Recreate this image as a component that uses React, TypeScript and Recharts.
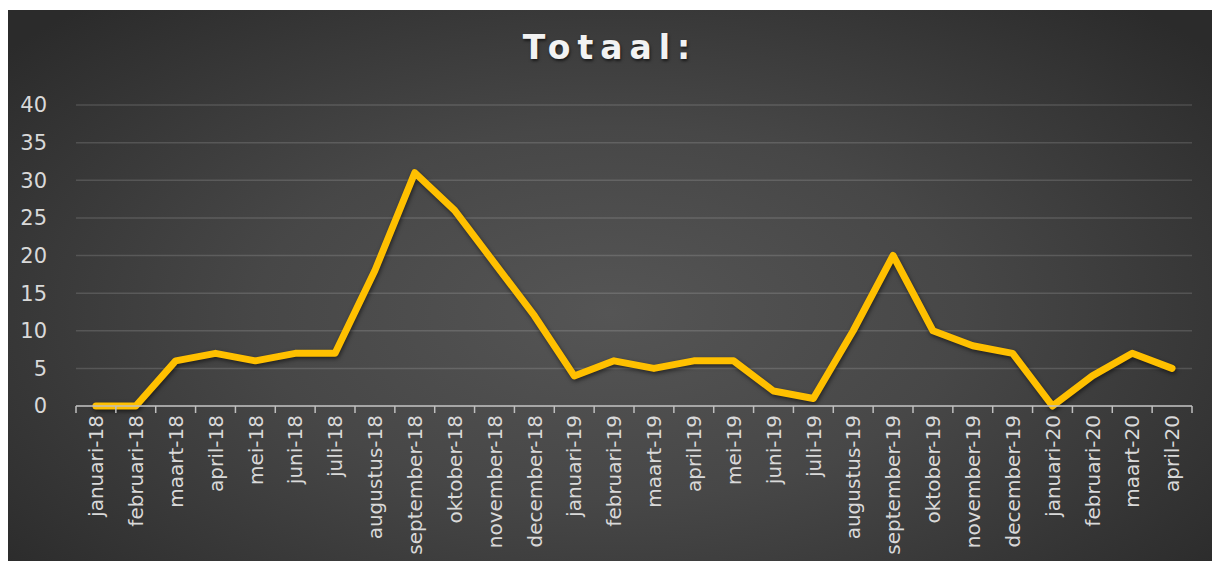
import React from 'react';
import { LineChart, Line, XAxis, YAxis, CartesianGrid } from 'recharts';

const months = [
  'januari-18', 'februari-18', 'maart-18', 'april-18', 'mei-18', 'juni-18', 'juli-18',
  'augustus-18', 'september-18', 'oktober-18', 'november-18', 'december-18',
  'januari-19', 'februari-19', 'maart-19', 'april-19', 'mei-19', 'juni-19', 'juli-19',
  'augustus-19', 'september-19', 'oktober-19', 'november-19', 'december-19',
  'januari-20', 'februari-20', 'maart-20', 'april-20',
];

const totals = [
  0, 0, 6, 7, 6, 7, 7,
  18, 31, 26, 19, 12,
  4, 6, 5, 6, 6, 2, 1,
  10, 20, 10, 8, 7,
  0, 4, 7, 5,
];

const yTicks = [0, 5, 10, 15, 20, 25, 30, 35, 40];

const data = months.map((month, i) => ({ month, total: totals[i] }));

const W = 1204;
const H = 551;
const MARGIN = { top: 95, right: 20, bottom: 0, left: 0 };
const Y_WIDTH = 68;
const X_HEIGHT = 155;
const PLOT_W = W - MARGIN.left - MARGIN.right - Y_WIDTH;
const HALF_BAND = PLOT_W / months.length / 2;

const FONT = '"DejaVu Sans", sans-serif';
const LABEL = '#d9d9d9';
const AXIS = '#bfbfbf';

const MonthTick = (props: any) => {
  const { x, y, payload, index } = props;
  const last = index === months.length - 1;
  return (
    <g>
      <line x1={x - HALF_BAND} y1={y} x2={x - HALF_BAND} y2={y + 7} stroke={AXIS} strokeWidth={1.5} />
      {last && (
        <line x1={x + HALF_BAND} y1={y} x2={x + HALF_BAND} y2={y + 7} stroke={AXIS} strokeWidth={1.5} />
      )}
      <text
        x={0}
        y={0}
        dy="0.36em"
        transform={`translate(${x},${y + 9}) rotate(-90)`}
        textAnchor="end"
        fill={LABEL}
        fontSize={20}
        fontFamily={FONT}
      >
        {payload.value}
      </text>
    </g>
  );
};

export default function App() {
  return (
    <div style={{ position: 'fixed', inset: 0, background: '#fff', overflow: 'hidden' }}>
      <div
        style={{
          position: 'absolute',
          left: 8,
          top: 10,
          width: W,
          height: H,
          background:
            'radial-gradient(ellipse 65% 75% at 50% 55%, #555555 0%, #474747 45%, #2b2b2b 100%)',
        }}
      >
        <div
          style={{
            position: 'absolute',
            left: 0,
            top: 21,
            width: W,
            textAlign: 'center',
            fontFamily: FONT,
            fontWeight: 'bold',
            fontSize: 33,
            lineHeight: '33px',
            letterSpacing: 7,
            color: '#f2f2f2',
            textShadow: '1px 2px 3px rgba(0,0,0,0.6)',
          }}
        >
          Totaal:
        </div>
        <div style={{ position: 'absolute', left: 0, top: 0 }}>
          <LineChart width={W} height={H} data={data} margin={MARGIN}>
            <CartesianGrid vertical={false} stroke="rgba(255,255,255,0.14)" strokeWidth={1.5} />
            <XAxis
              dataKey="month"
              interval={0}
              height={X_HEIGHT}
              padding={{ left: HALF_BAND, right: HALF_BAND }}
              axisLine={{ stroke: AXIS, strokeWidth: 1.5 }}
              tickLine={false}
              tickSize={0}
              tickMargin={0}
              tick={<MonthTick />}
            />
            <YAxis
              width={Y_WIDTH}
              domain={[0, 40]}
              ticks={yTicks}
              axisLine={false}
              tickLine={false}
              tickSize={0}
              tickMargin={29}
              tick={{ fill: LABEL, fontSize: 21, fontFamily: FONT }}
            />
            <Line
              type="linear"
              dataKey="total"
              stroke="#FFC000"
              strokeWidth={7}
              strokeLinejoin="round"
              strokeLinecap="round"
              dot={false}
              activeDot={false}
              isAnimationActive={false}
              style={{ filter: 'drop-shadow(1px 2px 2px rgba(0,0,0,0.55))' }}
            />
          </LineChart>
        </div>
      </div>
    </div>
  );
}
